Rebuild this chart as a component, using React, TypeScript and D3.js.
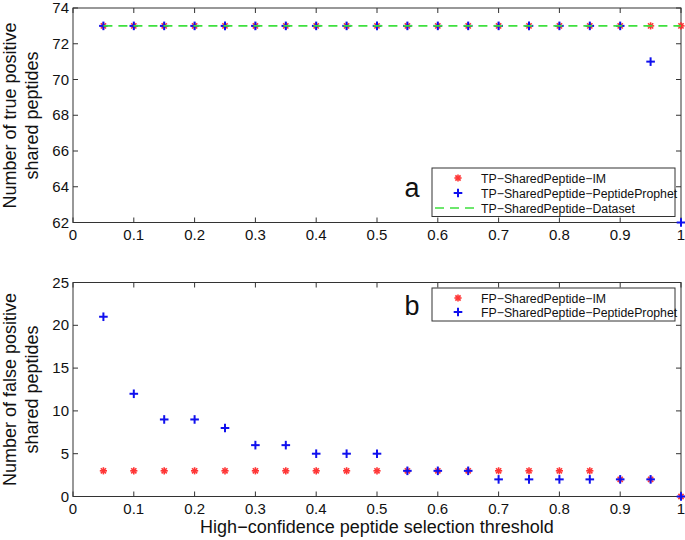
import React from "react";
import * as d3 from "d3";

const thresholds = [0.05, 0.1, 0.15, 0.2, 0.25, 0.3, 0.35, 0.4, 0.45, 0.5, 0.55, 0.6, 0.65, 0.7, 0.75, 0.8, 0.85, 0.9, 0.95, 1.0];
const tpIM = [73, 73, 73, 73, 73, 73, 73, 73, 73, 73, 73, 73, 73, 73, 73, 73, 73, 73, 73, 73];
const tpPP = [73, 73, 73, 73, 73, 73, 73, 73, 73, 73, 73, 73, 73, 73, 73, 73, 73, 73, 71, 62];
const tpDataset = [73, 73, 73, 73, 73, 73, 73, 73, 73, 73, 73, 73, 73, 73, 73, 73, 73, 73, 73, 73];
const fpIM = [3, 3, 3, 3, 3, 3, 3, 3, 3, 3, 3, 3, 3, 3, 3, 3, 3, 2, 2, 0];
const fpPP = [21, 12, 9, 9, 8, 6, 6, 5, 5, 5, 3, 3, 3, 2, 2, 2, 2, 2, 2, 0];

const xTicks = [0, 0.1, 0.2, 0.3, 0.4, 0.5, 0.6, 0.7, 0.8, 0.9, 1];
const tpTicks = [62, 64, 66, 68, 70, 72, 74];
const fpTicks = [0, 5, 10, 15, 20, 25];

const tpLegend = ["TP\u2212SharedPeptide\u2212IM", "TP\u2212SharedPeptide\u2212PeptideProphet", "TP\u2212SharedPeptide\u2212Dataset"];
const fpLegend = ["FP\u2212SharedPeptide\u2212IM", "FP\u2212SharedPeptide\u2212PeptideProphet"];

const RED = "#ff2020";
const BLUE = "#1010ee";
const GREEN = "#3ee03e";
const AX = "#333";
const FONT = "'Liberation Sans', Arial, Helvetica, sans-serif";

const X0 = 73, X1 = 681;
const x = d3.scaleLinear().domain([0, 1]).range([X0, X1]);

function Star({ cx, cy }: { cx: number; cy: number }) {
  const r = 3.6;
  const d = r * 0.72;
  return (
    <g stroke={RED} strokeWidth={1.6} opacity={0.9}>
      <line x1={cx - r} y1={cy} x2={cx + r} y2={cy} />
      <line x1={cx} y1={cy - r} x2={cx} y2={cy + r} />
      <line x1={cx - d} y1={cy - d} x2={cx + d} y2={cy + d} />
      <line x1={cx - d} y1={cy + d} x2={cx + d} y2={cy - d} />
    </g>
  );
}

function Plus({ cx, cy }: { cx: number; cy: number }) {
  const r = 4.3;
  return (
    <g stroke={BLUE} strokeWidth={2}>
      <line x1={cx - r} y1={cy} x2={cx + r} y2={cy} />
      <line x1={cx} y1={cy - r} x2={cx} y2={cy + r} />
    </g>
  );
}

function Frame({ y, ticks }: { y: d3.ScaleLinear<number, number>; ticks: number[] }) {
  const [Y1, Y0] = y.range();
  const tl = 5;
  return (
    <g>
      <rect x={X0} y={Y0} width={X1 - X0} height={Y1 - Y0} fill="none" stroke={AX} strokeWidth={1} />
      {xTicks.map((t) => (
        <g key={"x" + t}>
          <line x1={x(t)} x2={x(t)} y1={Y1} y2={Y1 - tl} stroke={AX} />
          <line x1={x(t)} x2={x(t)} y1={Y0} y2={Y0 + tl} stroke={AX} />
          <text x={x(t)} y={Y1 + 17} textAnchor="middle" fontSize={15} fontFamily={FONT} fill="#111">
            {String(t)}
          </text>
        </g>
      ))}
      {ticks.map((t) => (
        <g key={"y" + t}>
          <line x1={X0} x2={X0 + tl} y1={y(t)} y2={y(t)} stroke={AX} />
          <line x1={X1} x2={X1 - tl} y1={y(t)} y2={y(t)} stroke={AX} />
          <text x={X0 - 4} y={y(t) + 5} textAnchor="end" fontSize={15} fontFamily={FONT} fill="#111">
            {String(t)}
          </text>
        </g>
      ))}
    </g>
  );
}

export default function App() {
  const yTop = d3.scaleLinear().domain([62, 74]).range([222.5, 8]);
  const yBot = d3.scaleLinear().domain([0, 25]).range([496.5, 282.5]);
  const dataLine = d3
    .line<number>()
    .x((_, i) => x(thresholds[i]))
    .y((v) => yTop(v));

  return (
    <svg width={685} height={540} style={{ position: "absolute", left: 0, top: 0 }}>
      <rect width={685} height={540} fill="#fff" />
      {/* Top panel */}
      <Frame y={yTop} ticks={tpTicks} />
      {thresholds.map((t, i) => (
        <Star key={"ts" + i} cx={x(t)} cy={yTop(tpIM[i])} />
      ))}
      {thresholds.map((t, i) => (
        <Plus key={"tp" + i} cx={x(t)} cy={yTop(tpPP[i])} />
      ))}
      <path d={dataLine(tpDataset) || ""} fill="none" stroke={GREEN} strokeWidth={1.6} strokeDasharray="9,6" />
      <text x={412} y={197} textAnchor="middle" fontSize={27} fontFamily={FONT} fill="#111">a</text>
      <g>
        <rect x={432} y={168} width={243} height={48.5} fill="#fff" stroke={AX} strokeWidth={1} />
        <Star cx={458} cy={178} />
        <Plus cx={458} cy={193} />
        <line x1={435} x2={476} y1={208} y2={208} stroke={GREEN} strokeWidth={1.6} strokeDasharray="9,6" />
        {tpLegend.map((s, i) => (
          <text key={s} x={481} y={182.5 + i * 15} fontSize={12.3} fontFamily={FONT} fill="#111">{s}</text>
        ))}
      </g>
      <text transform="translate(16,115.5) rotate(-90)" textAnchor="middle" fontSize={18} fontFamily={FONT} fill="#111">
        Number of true positive
      </text>
      <text transform="translate(38,115.5) rotate(-90)" textAnchor="middle" fontSize={18} fontFamily={FONT} fill="#111">
        shared peptides
      </text>

      {/* Bottom panel */}
      <Frame y={yBot} ticks={fpTicks} />
      {thresholds.map((t, i) => (
        <Star key={"fs" + i} cx={x(t)} cy={yBot(fpIM[i])} />
      ))}
      {thresholds.map((t, i) => (
        <Plus key={"fp" + i} cx={x(t)} cy={yBot(fpPP[i])} />
      ))}
      <text x={412} y={315} textAnchor="middle" fontSize={27} fontFamily={FONT} fill="#111">b</text>
      <g>
        <rect x={432} y={288} width={243} height={33} fill="#fff" stroke={AX} strokeWidth={1} />
        <Star cx={458} cy={298} />
        <Plus cx={458} cy={312} />
        {fpLegend.map((s, i) => (
          <text key={s} x={481} y={302.5 + i * 14.5} fontSize={12.3} fontFamily={FONT} fill="#111">{s}</text>
        ))}
      </g>
      <text transform="translate(16,389.5) rotate(-90)" textAnchor="middle" fontSize={18} fontFamily={FONT} fill="#111">
        Number of false positive
      </text>
      <text transform="translate(38,389.5) rotate(-90)" textAnchor="middle" fontSize={18} fontFamily={FONT} fill="#111">
        shared peptides
      </text>
      <text x={377} y={533} textAnchor="middle" fontSize={18} fontFamily={FONT} fill="#111">
        High{"\u2212"}confidence peptide selection threshold
      </text>
    </svg>
  );
}
